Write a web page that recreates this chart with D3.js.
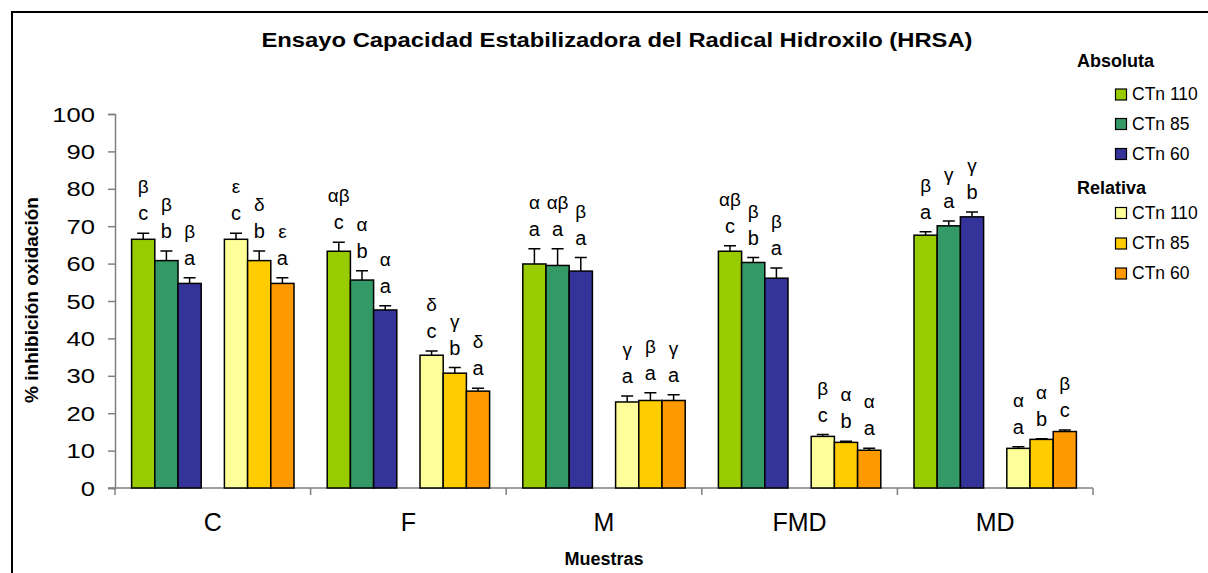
<!DOCTYPE html>
<meta charset="utf-8">
<style>

body { margin: 0; background: #fff; }
text { font-family: "Liberation Sans", Arial, sans-serif; fill: #000; }
.axis path, .axis line { stroke: #808080; stroke-width: 1.5px; }
.bar { stroke: #000; stroke-width: 1.5px; }
.err { stroke: #000; stroke-width: 1.5px; fill: none; }

</style>
<svg width="1208" height="573"></svg>
<script src="https://d3js.org/d3.v7.min.js"></script>
<script>

var categories = ["C", "F", "M", "FMD", "MD"];

var seriesNames = ["abs110", "abs85", "abs60", "rel110", "rel85", "rel60"];
var legendLabels = ["CTn 110", "CTn 85", "CTn 60", "CTn 110", "CTn 85", "CTn 60"];
var colors = ["#99cc00", "#339966", "#333399", "#ffff99", "#ffcc00", "#ff9900"];

var abs110 = [66.5, 63.3, 59.9, 63.3, 67.6];
var abs85  = [60.8, 55.6, 59.5, 60.3, 70.1];
var abs60  = [54.7, 47.6, 58.0, 56.1, 72.5];
var rel110 = [66.5, 35.5, 23.0, 13.8, 10.6];
var rel85  = [60.8, 30.7, 23.4, 12.2, 13.0];
var rel60  = [54.7, 25.9, 23.4, 10.1, 15.1];

var err110a = [1.6, 2.4, 4.1, 1.5, 0.9];
var err85a  = [2.6, 2.5, 4.5, 1.3, 1.3];
var err60a  = [1.5, 1.1, 3.6, 2.7, 1.3];
var err110r = [1.6, 1.1, 1.6, 0.5, 0.4];
var err85r  = [2.6, 1.5, 2.1, 0.3, 0.2];
var err60r  = [1.5, 0.8, 1.5, 0.5, 0.4];

var let110a = ["c", "c", "a", "c", "a"];
var let85a  = ["b", "b", "a", "b", "a"];
var let60a  = ["a", "a", "a", "a", "b"];
var let110r = ["c", "c", "a", "c", "a"];
var let85r  = ["b", "b", "a", "b", "b"];
var let60r  = ["a", "a", "a", "a", "c"];

var grk110a = ["β", "αβ", "α", "αβ", "β"];
var grk85a  = ["β", "α", "αβ", "β", "γ"];
var grk60a  = ["β", "α", "β", "β", "γ"];
var grk110r = ["ε", "δ", "γ", "β", "α"];
var grk85r  = ["δ", "γ", "β", "α", "α"];
var grk60r  = ["ε", "δ", "γ", "α", "β"];

var yTicks = [0, 10, 20, 30, 40, 50, 60, 70, 80, 90, 100];

var values = [abs110, abs85, abs60, rel110, rel85, rel60],
    errors = [err110a, err85a, err60a, err110r, err85r, err60r],
    letters = [let110a, let85a, let60a, let110r, let85r, let60r],
    greeks = [grk110a, grk85a, grk60a, grk110r, grk85r, grk60r];

var svg = d3.select("svg");

// outer frame (runs off the right and bottom edge)
svg.append("rect")
    .attr("x", 12).attr("y", 12)
    .attr("width", 1400).attr("height", 800)
    .attr("fill", "none").attr("stroke", "#000").attr("stroke-width", 2);

var x0 = d3.scaleBand().domain(categories).range([115, 1093]);
var slots = ["abs110", "abs85", "abs60", "gap", "rel110", "rel85", "rel60"];
var pad = 16.6;
var x1 = d3.scaleBand().domain(slots).range([pad, x0.bandwidth() - pad]);
var y = d3.scaleLinear().domain([0, 100]).range([488, 114]);

// y axis
svg.append("g")
    .attr("class", "axis")
    .attr("transform", "translate(115,0)")
    .call(d3.axisLeft(y).tickValues(yTicks).tickSize(7).tickSizeOuter(7).tickFormat(""));

yTicks.forEach(function(t) {
  svg.append("text")
      .attr("transform", "translate(95," + y(t) + ") scale(1.22,1)")
      .attr("text-anchor", "end")
      .attr("dy", "0.36em")
      .style("font-size", "21px")
      .text(t);
});

// x axis with ticks between categories
var xAxis = svg.append("g")
    .attr("class", "axis")
    .attr("transform", "translate(0,488)");
xAxis.append("line").attr("x1", 108).attr("x2", 1093);
categories.concat([null]).forEach(function(c, i) {
  var xp = i < categories.length ? x0(c) : x0.range()[1];
  xAxis.append("line").attr("x1", xp).attr("x2", xp).attr("y1", 0).attr("y2", 7);
});

svg.selectAll(".cat")
    .data(categories)
  .enter().append("text")
    .attr("class", "cat")
    .attr("x", function(d) { return x0(d) + x0.bandwidth() / 2; })
    .attr("y", 531)
    .attr("text-anchor", "middle")
    .style("font-size", "25px")
    .text(function(d) { return d; });

// bars, error bars and significance labels
seriesNames.forEach(function(s, si) {
  var g = svg.append("g");
  var rows = categories.map(function(c, ci) {
    return {
      cat: c,
      v: values[si][ci],
      e: errors[si][ci],
      l: letters[si][ci],
      g: greeks[si][ci]
    };
  });
  var bx = function(d) { return x0(d.cat) + x1(s); };
  var bw = x1.bandwidth();

  g.selectAll(".err")
      .data(rows)
    .enter().append("path")
      .attr("class", "err")
      .attr("d", function(d) {
        var cx = bx(d) + bw / 2;
        return "M" + cx + "," + y(d.v) + "V" + y(d.v + d.e) +
               "M" + (cx - 6) + "," + y(d.v + d.e) + "H" + (cx + 6);
      });

  g.selectAll(".bar")
      .data(rows)
    .enter().append("rect")
      .attr("class", "bar")
      .attr("x", bx)
      .attr("y", function(d) { return y(d.v); })
      .attr("width", bw)
      .attr("height", function(d) { return y(0) - y(d.v); })
      .attr("fill", colors[si]);

  g.selectAll(".let")
      .data(rows)
    .enter().append("text")
      .attr("x", function(d) { return bx(d) + bw / 2; })
      .attr("y", function(d) { return y(d.v + d.e) - 13; })
      .attr("text-anchor", "middle")
      .style("font-size", "20px")
      .text(function(d) { return d.l; });

  g.selectAll(".grk")
      .data(rows)
    .enter().append("text")
      .attr("x", function(d) { return bx(d) + bw / 2; })
      .attr("y", function(d) { return y(d.v + d.e) - 40; })
      .attr("text-anchor", "middle")
      .style("font-size", "19px")
      .text(function(d) { return d.g; });
});

// titles
svg.append("text")
    .attr("transform", "translate(617,47) scale(1.19,1)")
    .attr("text-anchor", "middle")
    .style("font-size", "20px")
    .style("font-weight", "bold")
    .text("Ensayo Capacidad Estabilizadora del Radical Hidroxilo (HRSA)");

svg.append("text")
    .attr("transform", "translate(38,300) rotate(-90)")
    .attr("text-anchor", "middle")
    .style("font-size", "19px")
    .style("font-weight", "bold")
    .text("% inhibición oxidación");

svg.append("text")
    .attr("x", 604)
    .attr("y", 565)
    .attr("text-anchor", "middle")
    .style("font-size", "18px")
    .style("font-weight", "bold")
    .text("Muestras");

// legend
var legend = svg.append("g");
legend.append("text").attr("x", 1077).attr("y", 67)
    .style("font-size", "18px").style("font-weight", "bold").text("Absoluta");
legend.append("text").attr("x", 1077).attr("y", 194)
    .style("font-size", "18px").style("font-weight", "bold").text("Relativa");

var legendY = [100, 129.5, 159.5, 218.5, 249, 279];
seriesNames.forEach(function(s, i) {
  legend.append("rect")
      .attr("x", 1115.5).attr("y", legendY[i] - 11)
      .attr("width", 11).attr("height", 11)
      .attr("fill", colors[i])
      .attr("stroke", "#000").attr("stroke-width", 1.2);
  legend.append("text")
      .attr("x", 1132).attr("y", legendY[i])
      .style("font-size", "17.5px")
      .text(legendLabels[i]);
});

</script>
